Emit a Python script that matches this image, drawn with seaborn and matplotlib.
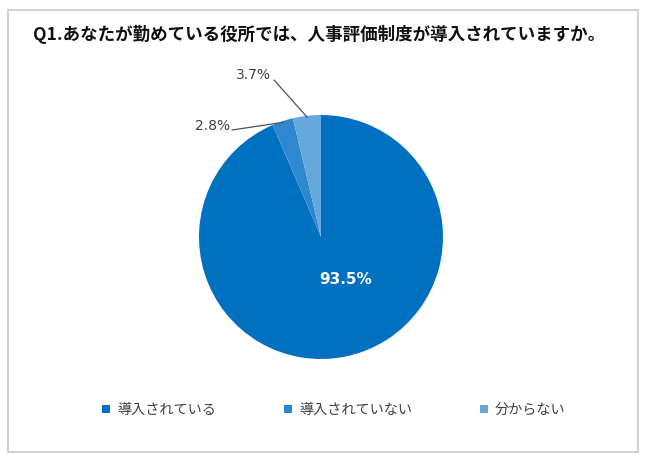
import numpy as np
import matplotlib
matplotlib.use("Agg")
import matplotlib.pyplot as plt
import seaborn as sns
from matplotlib.patches import Rectangle

sns.set_theme(style="white")
plt.rcParams['font.family'] = ['Noto Sans CJK JP', 'DejaVu Sans']

title = "Q1.あなたが勤めている役所では、人事評価制度が導入されていますか。"
categories = ["導入されている", "導入されていない", "分からない"]
values = [93.5, 2.8, 3.7]
labels = ["93.5%", "2.8%", "3.7%"]
colors = ["#0070C0", "#2E88CF", "#65A9DC"]

W, H = 650, 463
fig = plt.figure(figsize=(W / 100, H / 100), dpi=100)
fig.patch.set_facecolor("white")

# border
fig.add_artist(Rectangle((8 / W, 1 - 452 / H), (638 - 8) / W, (452 - 10) / H,
                         transform=fig.transFigure, fill=False,
                         edgecolor="#C8C8C8", linewidth=1.2))

cx, cy, r = 321, 237, 122
ax = fig.add_axes([(cx - r) / W, 1 - (cy + r) / H, 2 * r / W, 2 * r / H])
wedges, _ = ax.pie(values, colors=colors, startangle=90, counterclock=False,
                   radius=1.0, wedgeprops=dict(linewidth=0))
ax.set_xlim(-1, 1)
ax.set_ylim(-1, 1)
ax.set_aspect("equal")
ax.axis("off")

# big label
ax.text((346 - cx) / r, (cy - 279) / r, labels[0], ha="center", va="center", color="white",
        fontsize=11, fontweight="bold", family=["DejaVu Sans"])

# small labels with leader lines
def px2data(x, y):
    return (x - cx) / r, (cy - y) / r

for i, (tx, ty, lx, ly) in zip([1, 2], [(213, 126, 232, 130), (253, 75, 274, 80)]):
    w = wedges[i]
    mid = np.deg2rad((w.theta1 + w.theta2) / 2)
    ex, ey = np.cos(mid), np.sin(mid)
    tdx, tdy = px2data(tx, ty)
    ldx, ldy = px2data(lx, ly)
    ax.text(tdx, tdy, labels[i], ha="center", va="center", color="#404040",
            fontsize=10, family=["DejaVu Sans"])
    ax.plot([ldx, ex * 0.99], [ldy, ey * 0.99], color="#505050", lw=0.9, clip_on=False)

fig.text(319 / W, 1 - 34 / H, title, ha="center", va="center",
         fontsize=12.6, fontweight="bold", color="#111111")

leg = fig.legend(wedges, categories, loc="center", ncol=3,
                 bbox_to_anchor=(334 / W, 1 - 410 / H), frameon=False,
                 fontsize=10.2, handlelength=0.55, handleheight=0.55,
                 handletextpad=0.5, columnspacing=4.8, labelcolor="#404040")

fig.savefig("out.png", dpi=100, facecolor="white")
